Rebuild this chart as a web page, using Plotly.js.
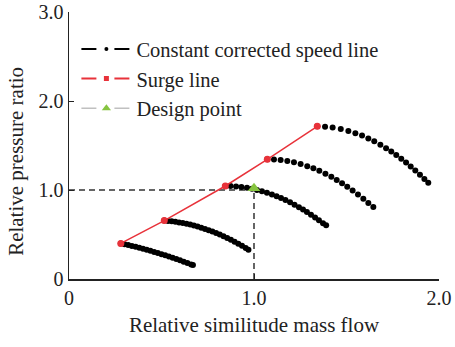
<!DOCTYPE html>
<html>
<head>
<meta charset="utf-8">
<script src="https://cdn.plot.ly/plotly-3.0.1.min.js"></script>
<style>html,body{margin:0;padding:0;background:#fff;}#chart{width:455px;height:347px;}</style>
</head>
<body>
<div id="chart"></div>
<script>
// Constant corrected speed lines
var speed1X = [0.28,0.30,0.32,0.34,0.36,0.38,0.40,0.42,0.44,0.46,0.48,0.50,0.52,0.54,0.56,0.58,0.60,0.62,0.64,0.66,0.67];
var speed1Y = [0.400,0.391,0.381,0.371,0.361,0.351,0.340,0.328,0.317,0.304,0.292,0.279,0.266,0.253,0.239,0.225,0.210,0.195,0.180,0.164,0.156];
var speed2X = [0.515,0.535,0.555,0.575,0.595,0.615,0.635,0.655,0.675,0.695,0.715,0.735,0.755,0.775,0.795,0.815,0.835,0.855,0.875,0.895,0.915,0.935,0.955,0.970];
var speed2Y = [0.656,0.653,0.648,0.643,0.636,0.629,0.620,0.611,0.600,0.589,0.576,0.563,0.548,0.533,0.516,0.499,0.480,0.461,0.440,0.419,0.396,0.373,0.348,0.329];
var speed3X = [0.845,0.873,0.903,0.932,0.962,0.989,1.016,1.043,1.070,1.097,1.122,1.146,1.170,1.195,1.219,1.243,1.265,1.286,1.308,1.330,1.351,1.373,1.390];
var speed3Y = [1.045,1.044,1.040,1.034,1.025,1.014,1.001,0.986,0.969,0.950,0.930,0.909,0.887,0.861,0.835,0.807,0.780,0.753,0.723,0.692,0.661,0.627,0.605];
var speed4X = [1.072,1.108,1.144,1.180,1.216,1.252,1.288,1.321,1.353,1.386,1.418,1.447,1.476,1.504,1.533,1.562,1.591,1.618,1.645];
var speed4Y = [1.345,1.343,1.336,1.326,1.311,1.292,1.268,1.243,1.215,1.182,1.148,1.113,1.076,1.037,0.994,0.949,0.901,0.853,0.808];
var speed5X = [1.342,1.384,1.425,1.469,1.510,1.548,1.584,1.618,1.650,1.683,1.714,1.742,1.769,1.796,1.822,1.847,1.872,1.897,1.921,1.942];
var speed5Y = [1.715,1.712,1.702,1.686,1.664,1.639,1.611,1.580,1.547,1.509,1.470,1.432,1.393,1.351,1.308,1.265,1.220,1.172,1.124,1.081];

// Surge line
var surgeX = [0.28,0.515,0.845,1.072,1.342];
var surgeY = [0.400,0.656,1.045,1.345,1.715];

// Design point and guide lines
var designX = [1.0];
var designY = [1.02];
var guideHX = [0, 1.0];
var guideHY = [1.0, 1.0];
var guideVX = [1.0, 1.0];
var guideVY = [0, 1.0];

var xTickVals = [0, 1, 2];
var xTickText = ['0', '1.0', '2.0'];
var yTickVals = [0, 1, 2, 3];
var yTickText = ['0', '1.0', '2.0', '3.0'];

var legendNames = ['Constant corrected speed line', 'Surge line', 'Design point'];

var FONT = 'Liberation Serif, Times New Roman, serif';
var BLACK = '#000000';
var RED = '#e8323a';
var GREEN = '#86c440';
var GREY = '#c0c0c0';

var traces = [];
// guide lines
traces.push({x: guideHX, y: guideHY, mode: 'lines', showlegend: false, hoverinfo: 'skip',
  line: {color: '#333333', width: 1.5, dash: '6px,4px'}});
traces.push({x: guideVX, y: guideVY, mode: 'lines', showlegend: false, hoverinfo: 'skip',
  line: {color: '#333333', width: 1.5, dash: '6px,4px'}});

var speeds = [[speed1X, speed1Y],[speed2X, speed2Y],[speed3X, speed3Y],[speed4X, speed4Y],[speed5X, speed5Y]];
speeds.forEach(function(s){
  traces.push({x: s[0], y: s[1], mode: 'markers', showlegend: false,
    marker: {color: BLACK, size: 6}});
});
traces.push({x: surgeX, y: surgeY, mode: 'lines+markers', showlegend: false,
  line: {color: RED, width: 1.5}, marker: {color: RED, size: 7}});
traces.push({x: designX, y: designY, mode: 'markers', showlegend: false,
  marker: {color: GREEN, size: 11, symbol: 'triangle-up'}});

// legend entries
traces.push({x: [null], y: [null], mode: 'lines+markers', name: legendNames[0],
  line: {color: BLACK, width: 2, dash: '15px,18px'}, marker: {color: BLACK, size: 4}});
traces.push({x: [null], y: [null], mode: 'lines+markers', name: legendNames[1],
  line: {color: RED, width: 2, dash: '15px,18px'}, marker: {color: RED, size: 5, symbol: 'square'}});
traces.push({x: [null], y: [null], mode: 'lines+markers', name: legendNames[2],
  line: {color: GREY, width: 1.5, dash: '15px,18px'}, marker: {color: GREEN, size: 8, symbol: 'triangle-up'}});

var layout = {
  width: 455, height: 347,
  margin: {l: 69, r: 16, t: 12, b: 68},
  paper_bgcolor: '#ffffff', plot_bgcolor: '#ffffff',
  font: {family: FONT, size: 20, color: '#222222'},
  showlegend: true,
  legend: {x: 0.02, y: 0.936, xanchor: 'left', yanchor: 'top', bgcolor: 'rgba(0,0,0,0)',
    font: {family: FONT, size: 20.5, color: '#222222'}, itemwidth: 50, tracegroupgap: 0},
  xaxis: {range: [0, 2], tickvals: xTickVals, ticktext: xTickText, ticks: 'inside', ticklen: 5,
    tickcolor: '#222', showline: true, linecolor: '#222', linewidth: 1.5, showgrid: false, zeroline: false,
    tickfont: {family: FONT, size: 20, color: '#222'},
    title: {text: 'Relative similitude mass flow', font: {family: FONT, size: 21, color: '#222'}, standoff: 10}},
  yaxis: {range: [0, 3], tickvals: yTickVals, ticktext: yTickText, ticks: 'inside', ticklen: 5,
    tickcolor: '#222', showline: true, linecolor: '#222', linewidth: 1.5, showgrid: false, zeroline: false,
    tickfont: {family: FONT, size: 20, color: '#222'},
    title: {text: ''}},
  annotations: [{text: 'Relative pressure ratio', xref: 'paper', yref: 'paper', x: -0.145, y: 0.44,
    xanchor: 'center', yanchor: 'middle', textangle: -90, showarrow: false,
    font: {family: FONT, size: 21, color: '#222'}}]
};

Plotly.newPlot('chart', traces, layout, {displayModeBar: false, staticPlot: true});
</script>
</body>
</html>
